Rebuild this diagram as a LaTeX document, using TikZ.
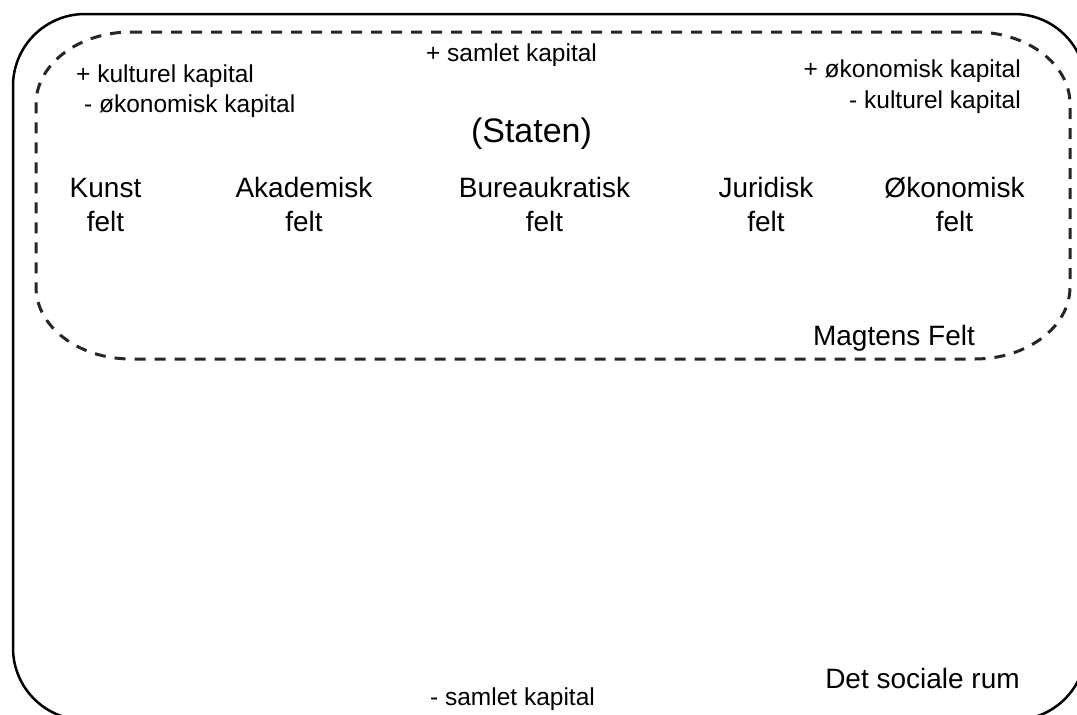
\documentclass[tikz,border=0pt]{standalone}
\usepackage{fontspec}
\setmainfont{Liberation Sans}
\begin{document}
\begin{tikzpicture}[x=1pt,y=-1pt,
  small/.style={font=\fontsize{24.5}{28}\selectfont,inner sep=0pt},
  big/.style={font=\fontsize{28}{34.5}\selectfont,inner sep=0pt,align=center},
  magt/.style={line width=3pt,dash pattern=on 11pt off 9pt,black!85}]
\useasboundingbox (0,0) rectangle (1077,715);
\clip (0,0) rectangle (1077,715);
% det sociale rum
\draw[line width=2.5pt,rounded corners=72pt] (13,14) rectangle (1086,720);
% magtens felt
\draw[magt] (131,32) -- (975,32) .. controls (1027.4,32) and (1070,64.3) .. (1070,104) -- (1070,287)
  .. controls (1070,326.7) and (1027.4,359) .. (975,359) -- (131,359)
  .. controls (78.6,359) and (36,326.7) .. (36,287) -- (36,104)
  .. controls (36,64.3) and (78.6,32) .. (131,32) -- cycle;
\node[small,anchor=base] (samletplus) at (511.5,61) {+ samlet kapital};
\node[small,anchor=base west] (kultplus) at (76,82) {+ kulturel kapital};
\node[small,anchor=base west] (oekminus) at (84,112) {- økonomisk kapital};
\node[small,anchor=base east] (oekplus) at (1021,77) {+ økonomisk kapital};
\node[small,anchor=base east] (kultminus) at (1021,108) {- kulturel kapital};
\node[font=\fontsize{34}{40}\selectfont,inner sep=0pt,anchor=base] (staten) at (531.5,142) {(Staten)};
\node[big,anchor=base] (kunst) at (105.5,231.7) {Kunst\\felt};
\node[big,anchor=base] (akademisk) at (304,231.7) {Akademisk\\felt};
\node[big,anchor=base] (bureau) at (544.5,231.7) {Bureaukratisk\\felt};
\node[big,anchor=base] (juridisk) at (766,231.7) {Juridisk\\felt};
\node[big,anchor=base] (oekonomisk) at (954.5,231.7) {Økonomisk\\felt};
\node[big,anchor=base] (magtfelt) at (894,345) {Magtens Felt};
\node[big,anchor=base] (rum) at (922.5,688) {Det sociale rum};
\node[small,anchor=base] (samletminus) at (512.5,705) {- samlet kapital};
\end{tikzpicture}
\end{document}
